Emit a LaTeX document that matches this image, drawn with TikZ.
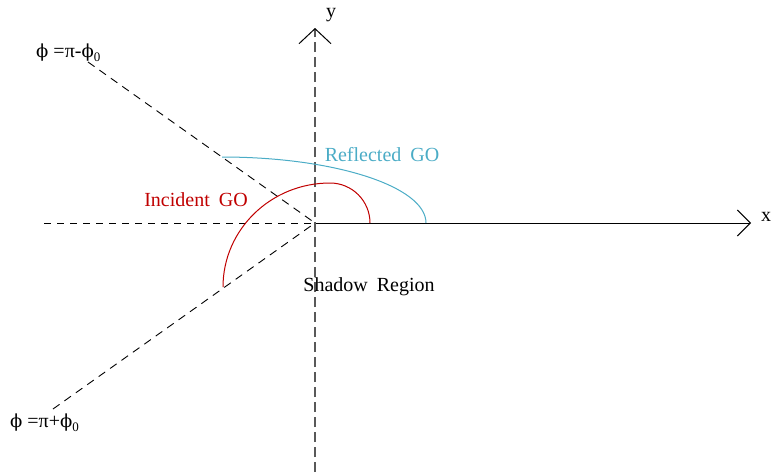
\documentclass[tikz,border=0pt]{standalone}
\usepackage{fontspec}
\setmainfont{Liberation Serif}
\newfontfamily\phifont{DejaVu Serif}
\usetikzlibrary{arrows.meta}
\definecolor{incred}{RGB}{192,0,0}
\definecolor{refcyan}{RGB}{75,172,198}
\tikzset{
  lbl/.style={font=\fontsize{20}{22}\selectfont, inner sep=0pt},
  ray/.style={draw=black, line width=0.9pt, dash pattern=on 8pt off 6pt},
  yaxis/.style={draw=black!65, line width=1.6pt, dash pattern=on 10pt off 5pt},
}
\newcommand{\sub}[1]{\raisebox{-0.45ex}{\fontsize{13}{13}\selectfont #1}}
\newcommand{\myphi}{{\phifont\fontsize{18}{20}\selectfont ϕ}}
\begin{document}
\begin{tikzpicture}[x=1pt,y=-1pt]
\useasboundingbox (0,0) rectangle (775,472);
% key points
\coordinate (O) at (315,223);
\coordinate (xL) at (44,223);
\coordinate (xR) at (751,223);
\coordinate (yB) at (315,472);
\coordinate (yT) at (315,28);
\coordinate (uEnd) at (88,62);
\coordinate (lEnd) at (53,409);
% axes
\draw[ray, dash pattern=on 7pt off 6pt] (xL) -- (O);
\draw[line width=1pt, -{Straight Barb[length=13pt,width=26pt,line width=1pt]}] (O) -- (xR);
\draw[yaxis, -{Straight Barb[length=15pt,width=32pt,line width=1pt,color=black]}] (yB) -- (yT);
% rays
\draw[ray] (uEnd) -- (O);
\draw[ray] (lEnd) -- (O);
% incident GO (red)
\coordinate (r0) at (370,223);
\draw[incred, line width=1pt] (r0) arc[start angle=0, end angle=-90, radius=40]
  arc[start angle=-90, end angle=-180, x radius=107, y radius=104];
% reflected GO (cyan)
\coordinate (c0) at (222,157);
\draw[refcyan, line width=1pt] (c0) arc[start angle=-90, end angle=0, x radius=204, y radius=66];
% labels
\node[lbl] (ylab) at (331,15) {y};
\node[lbl] (xlab) at (766,217) {x};
\node[lbl, text=incred] (inc) at (196,200) {Incident\hspace{0.45em}GO};
\node[lbl, text=refcyan] (refl) at (382,155) {Reflected\hspace{0.45em}GO};
\node[lbl] (shad) at (369,287) {Shadow\hspace{0.45em}Region};
\node[lbl, anchor=west] (phiu) at (36,53) {\myphi\ =π-\myphi\sub{0}};
\node[lbl, anchor=west] (phil) at (10,423) {\myphi\ =π+\myphi\sub{0}};
\end{tikzpicture}
\end{document}
